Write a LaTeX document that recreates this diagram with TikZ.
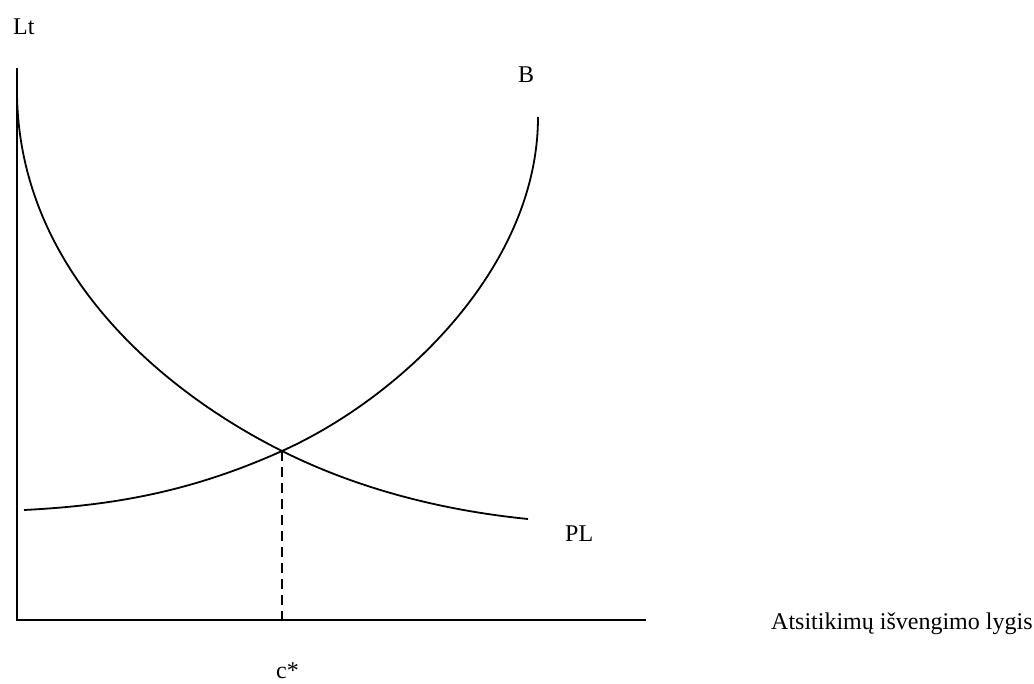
\documentclass[tikz,border=0pt]{standalone}
\usepackage{fontspec}
\setmainfont{Liberation Serif}
\begin{document}
\begin{tikzpicture}[x=1pt,y=-1pt,
  lbl/.style={anchor=base west,inner sep=0pt,font=\fontsize{24}{28}\selectfont},
  curve/.style={line width=1.8pt},
  axis/.style={line width=1.9pt},
  dropline/.style={line width=1.4pt,dash pattern=on 10pt off 6pt}]
\useasboundingbox (0,0) rectangle (1034,684);
\coordinate (O) at (17,620);
\coordinate (ytop) at (17,68);
\coordinate (xend) at (646,620);
\coordinate (E) at (282,451);
\coordinate (Ebase) at (282,620);
\coordinate (PLs) at (17,90);
\coordinate (PLe) at (528,519);
\coordinate (Bs) at (24,510);
\coordinate (Be) at (538,117);
\draw[axis] (ytop) -- (O) -- (xend);
% PL curve
\draw[curve] (PLs) .. controls (17,270) and (162,391) .. (E)
  .. controls (362,491) and (448,511) .. (PLe);
% B curve
\draw[curve] (Bs) .. controls (114,505.5) and (192,491.5) .. (E)
  .. controls (402,397) and (538,267) .. (Be);
\draw[dropline] (E) -- (Ebase);
\node[lbl] (lt) at (13,35) {Lt};
\node[lbl] (b) at (518,83) {B};
\node[lbl] (pl) at (565,541) {PL};
\node[lbl] (cs) at (276,678) {c*};
\node[lbl] (ax) at (771,629) {Atsitikimų išvengimo lygis};
\end{tikzpicture}
\end{document}
